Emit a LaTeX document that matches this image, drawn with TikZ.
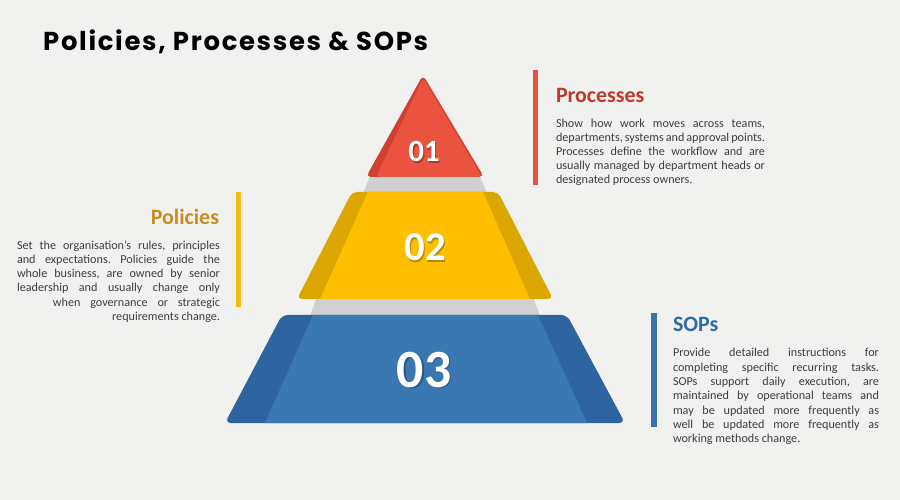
\documentclass[tikz,border=0pt]{standalone}
\usepackage{fontspec}
\setmainfont{Carlito}
\newfontfamily\titlefont[LetterSpace=6.5]{Poppins}
\frenchspacing
\definecolor{bgc}{HTML}{F1F1F0}
\definecolor{bandgray}{HTML}{D0D0D0}
\definecolor{redmain}{HTML}{E9533F}
\definecolor{reddark}{HTML}{D2412F}
\definecolor{yelmain}{HTML}{FDBF00}
\definecolor{yeldark}{HTML}{DBA600}
\definecolor{bluemain}{HTML}{3A78B4}
\definecolor{bluedark}{HTML}{2E64A0}
\definecolor{proctitle}{HTML}{BC3A2A}
\definecolor{poltitle}{HTML}{C98D1F}
\definecolor{soptitle}{HTML}{2E6BA6}
\definecolor{redbar}{HTML}{E4513E}
\definecolor{yelbar}{HTML}{F6BB12}
\definecolor{bluebar}{HTML}{3A74AF}
\definecolor{bodytext}{HTML}{3E3E3E}
\newcommand{\justline}[2]{\makebox[#1][s]{#2}}
\tikzset{
  bodyline/.style={anchor=base west, inner sep=0pt, outer sep=0pt, text=bodytext, font=\frenchspacing\fontsize{12.2}{14}\selectfont},
  bodyright/.style={bodyline, anchor=base east},
  headline/.style={inner sep=0pt, outer sep=0pt, font=\fontsize{22}{26}\selectfont\bfseries},
  numlabel/.style={anchor=base, inner sep=0pt, text=white, font=\bfseries},
  numshadow/.style={anchor=base, inner sep=0pt, text=black, text opacity=0.28, font=\bfseries},
}
\begin{document}
\begin{tikzpicture}[x=1bp,y=-1bp]
\useasboundingbox (0,0) rectangle (900,500);
\fill[bgc] (0,0) rectangle (900,500);

% title
\node[anchor=base west, inner sep=0pt, font=\titlefont\bfseries\fontsize{26}{30}\selectfont] (title) at (43,51) {Policies, Processes \& SOPs};

% gray connecting bands
\fill[bandgray] (373,170) -- (477,170) -- (487,193) -- (363,193) -- cycle;
\fill[bandgray] (318,294) -- (532,294) -- (540,316) -- (310,316) -- cycle;

% tier 1 triangle
\fill[reddark, rounded corners=5] (423,75) -- (484,177) -- (366,177) -- cycle;
\fill[redmain, rounded corners=4] (423,78) -- (482,177) -- (376,177) -- cycle;

% tier 2 trapezoid
\fill[yeldark, rounded corners=5] (352,192) -- (498,192) -- (553,299) -- (297,299) -- cycle;
\fill[yelmain] (368,192) -- (483,192) -- (530,299) -- (320,299) -- cycle;

% tier 3 trapezoid
\fill[bluedark, rounded corners=6] (282,315) -- (567,315) -- (625,423) -- (225,423) -- cycle;
\fill[bluemain] (313,315) -- (538,315) -- (587,423) -- (265,423) -- cycle;

% numbers
\node[numshadow, font=\bfseries\fontsize{31}{31}\selectfont] (n1s) at (425.2,163.2) {01};
\node[numlabel, font=\bfseries\fontsize{31}{31}\selectfont] (n1) at (424,162) {01};
\node[numshadow, font=\bfseries\fontsize{41}{41}\selectfont] (n2s) at (426.3,262.3) {02};
\node[numlabel, font=\bfseries\fontsize{41}{41}\selectfont] (n2) at (425,261) {02};
\node[numshadow, font=\bfseries\fontsize{54}{54}\selectfont] (n3s) at (425.5,388.5) {03};
\node[numlabel, font=\bfseries\fontsize{54}{54}\selectfont] (n3) at (424,387) {03};

% accent bars
\fill[redbar] (533,70) rectangle (538,185);
\fill[yelbar] (236,192) rectangle (241,307);
\fill[bluebar] (651,313) rectangle (657,427);

% Processes block
\node[headline, anchor=base west, text=proctitle] (proch) at (556,103) {Processes};
\node[bodyline] (p1) at (556,128) {\justline{209bp}{Show how work moves across teams,}};
\node[bodyline] (p2) at (556,142) {\justline{209bp}{departments, systems and approval points.}};
\node[bodyline] (p3) at (556,156) {\justline{209bp}{Processes define the workflow and are}};
\node[bodyline] (p4) at (556,170) {\justline{209bp}{usually managed by department heads or}};
\node[bodyline] (p5) at (556,184) {designated process owners.};

% Policies block
\node[headline, anchor=base east, text=poltitle] (polh) at (219,225) {Policies};
\node[bodyline] (l1) at (17,250) {\justline{203bp}{Set the organisation’s rules, principles}};
\node[bodyline] (l2) at (17,264) {\justline{203bp}{and expectations. Policies guide the}};
\node[bodyline] (l3) at (17,278) {\justline{203bp}{whole business, are owned by senior}};
\node[bodyline] (l4) at (17,292) {\justline{203bp}{leadership and usually change only}};
\node[bodyright] (l5) at (220,307) {\justline{167bp}{when governance or strategic}};
\node[bodyright] (l6) at (220,321) {requirements change.};

% SOPs block
\node[headline, anchor=base west, text=soptitle] (soph) at (673,332) {SOPs};
\node[bodyline] (s1) at (673,357) {\justline{206bp}{Provide detailed instructions for}};
\node[bodyline] (s2) at (673,371) {\justline{206bp}{completing specific recurring tasks.}};
\node[bodyline] (s3) at (673,385) {\justline{206bp}{SOPs support daily execution, are}};
\node[bodyline] (s4) at (673,399) {\justline{206bp}{maintained by operational teams and}};
\node[bodyline] (s5) at (673,414) {\justline{206bp}{may be updated more frequently as}};
\node[bodyline] (s6) at (673,428) {\justline{206bp}{well be updated more frequently as}};
\node[bodyline] (s7) at (673,442) {working methods change.};
\end{tikzpicture}
\end{document}
